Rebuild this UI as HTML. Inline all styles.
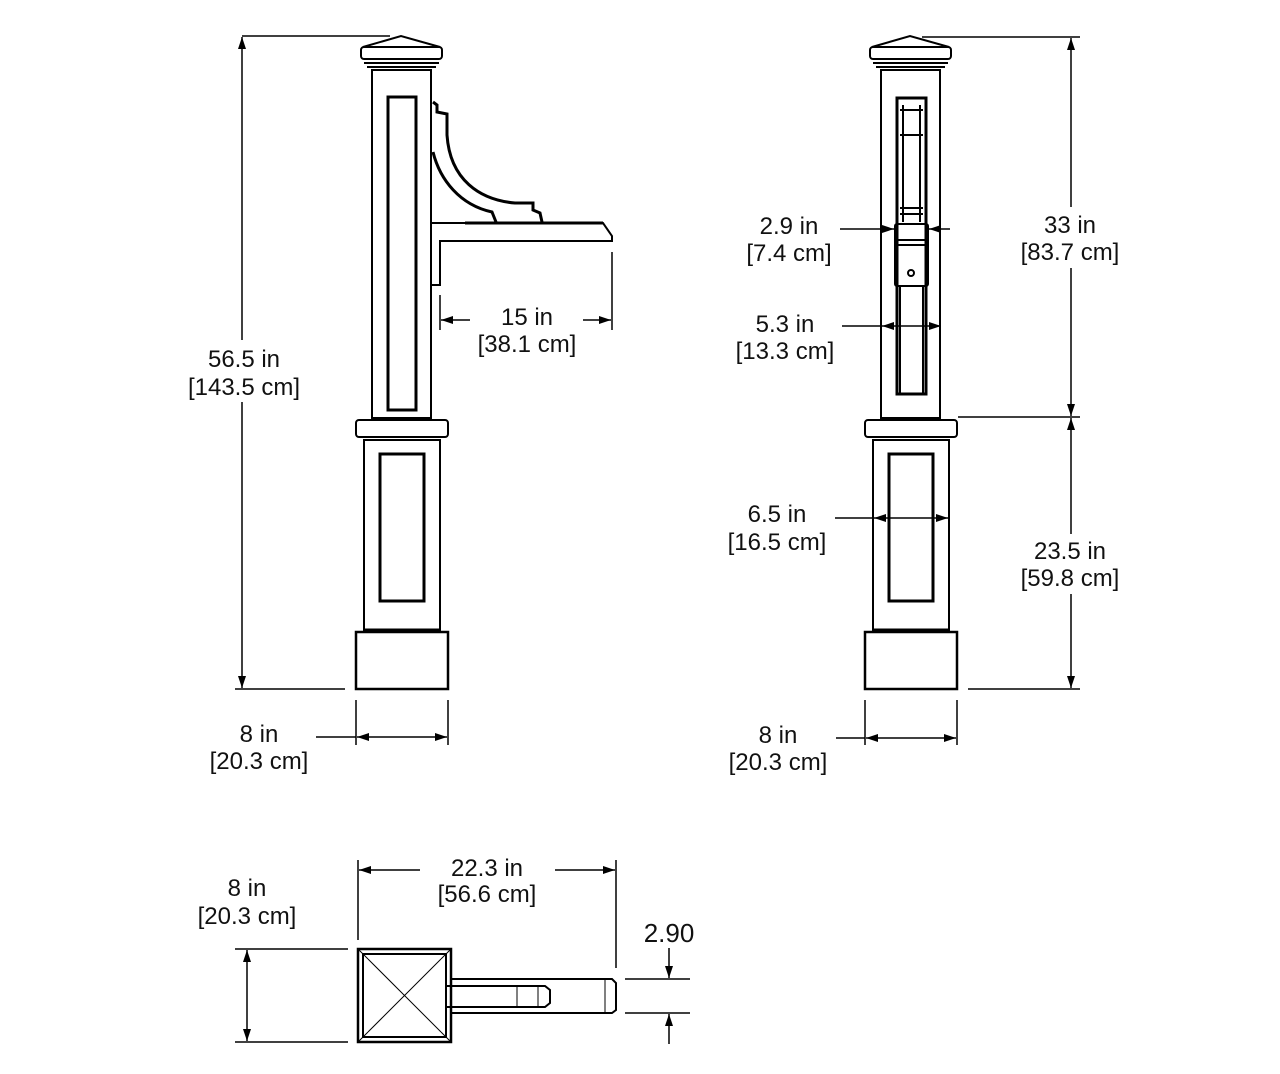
<!DOCTYPE html>
<html><head><meta charset="utf-8"><style>
html,body{margin:0;padding:0;background:#fff;}
svg{display:block;}
text{font-family:"Liberation Sans",Arial,sans-serif;font-size:24px;fill:#111;text-anchor:middle;}
</style></head><body>
<svg width="1280" height="1074" viewBox="0 0 1280 1074" xmlns="http://www.w3.org/2000/svg">
<defs>
<marker id="a" viewBox="0 0 12 8" refX="12" refY="4" markerWidth="12" markerHeight="8" markerUnits="userSpaceOnUse" orient="auto-start-reverse"><path d="M0,0 L12,4 L0,8 Z" fill="#000"/></marker>
</defs>
<g fill="none" stroke="#000" stroke-width="2">
<g id="post">
<path d="M363,47 L401,36 L440,47"/>
<rect x="361" y="47" width="81" height="12" rx="3"/>
<line x1="364" y1="63" x2="439" y2="63"/>
<line x1="367" y1="67" x2="436" y2="67"/>
<rect x="372" y="70" width="59" height="348"/>
<rect x="356" y="420" width="92" height="17" rx="3"/>
<line x1="363" y1="440" x2="441" y2="440"/>
<rect x="364" y="440" width="76" height="190"/>
<rect x="356" y="632" width="92" height="57" stroke-width="2.5"/>
<line x1="364" y1="630" x2="440" y2="630" stroke-width="3"/>
</g>
<rect x="388" y="97" width="28" height="313" stroke-width="3"/>
<rect x="380" y="454" width="44" height="147" stroke-width="3"/>
<path d="M431,223 L603,223 L612,236 L612,241 L440,241 L440,285 L431,285"/>
<line x1="465" y1="223" x2="603" y2="223" stroke-width="3"/>
<path d="M433,102 L437,105 L437,112 L447,114 L447,135 C450,180 480,200 515,203 L533,203 L533,210 L540,213 L542,222" stroke-width="3"/>
<path d="M433,152 C440,180 460,205 492,212 L496,222" stroke-width="3"/>
<g transform="translate(509,0)">
<path d="M363,47 L401,36 L440,47"/>
<rect x="361" y="47" width="81" height="12" rx="3"/>
<line x1="364" y1="63" x2="439" y2="63"/>
<line x1="367" y1="67" x2="436" y2="67"/>
<rect x="372" y="70" width="59" height="348"/>
<rect x="356" y="420" width="92" height="17" rx="3"/>
<line x1="363" y1="440" x2="441" y2="440"/>
<rect x="364" y="440" width="76" height="190"/>
<rect x="356" y="632" width="92" height="57" stroke-width="2.5"/>
<line x1="364" y1="630" x2="440" y2="630" stroke-width="3"/>
<rect x="380" y="454" width="44" height="147" stroke-width="3"/>
</g>
<rect x="897" y="98" width="29" height="296" stroke-width="3"/>
<line x1="903" y1="105" x2="903" y2="222"/><line x1="920" y1="105" x2="920" y2="222"/>
<line x1="900" y1="110" x2="923" y2="110"/><line x1="900" y1="135" x2="923" y2="135"/>
<line x1="900" y1="208" x2="923" y2="208"/><line x1="900" y1="214" x2="923" y2="214"/>
<rect x="895" y="224" width="33" height="62" rx="2"/>
<line x1="895" y1="240" x2="928" y2="240"/>
<line x1="897" y1="245" x2="926" y2="245"/>
<circle cx="911" cy="273" r="3"/>
<line x1="900" y1="286" x2="900" y2="394"/><line x1="923" y1="286" x2="923" y2="394"/>
<rect x="358" y="949" width="93" height="93" stroke-width="2.5"/>
<rect x="363" y="954" width="83" height="83"/>
<line x1="368" y1="959" x2="441" y2="1032" stroke-width="1"/>
<line x1="441" y1="959" x2="368" y2="1032" stroke-width="1"/>
<line x1="358" y1="949" x2="368" y2="959" stroke-width="1"/><line x1="451" y1="949" x2="441" y2="959" stroke-width="1"/>
<line x1="358" y1="1042" x2="368" y2="1032" stroke-width="1"/><line x1="451" y1="1042" x2="441" y2="1032" stroke-width="1"/>
<path d="M451,979 L612,979 L616,983 L616,1010 L612,1013 L451,1013"/>
<line x1="605" y1="979" x2="605" y2="1013" stroke-width="1"/>
<path d="M446,986 L545,986 L550,990 L550,1003 L545,1007 L446,1007"/>
<line x1="446" y1="986" x2="446" y2="1007"/>
<line x1="517" y1="986" x2="517" y2="1007" stroke-width="1"/>
<line x1="538" y1="986" x2="538" y2="1007" stroke-width="1"/>
</g>
<g fill="none" stroke="#000" stroke-width="1.5">
<line x1="242" y1="36" x2="390" y2="36"/>
<line x1="235" y1="689" x2="345" y2="689"/>
<line x1="242" y1="37" x2="242" y2="340" marker-start="url(#a)"/>
<line x1="242" y1="402" x2="242" y2="688" marker-end="url(#a)"/>
<line x1="356" y1="700" x2="356" y2="745"/><line x1="448" y1="700" x2="448" y2="745"/>
<line x1="316" y1="737" x2="356" y2="737"/>
<line x1="357" y1="737" x2="447" y2="737" marker-start="url(#a)" marker-end="url(#a)"/>
<line x1="440" y1="295" x2="440" y2="330"/><line x1="612" y1="252" x2="612" y2="330"/>
<line x1="441" y1="320" x2="470" y2="320" marker-start="url(#a)"/>
<line x1="583" y1="320" x2="611" y2="320" marker-end="url(#a)"/>
<line x1="922" y1="37" x2="1080" y2="37"/>
<line x1="958" y1="417" x2="1080" y2="417"/>
<line x1="968" y1="689" x2="1080" y2="689"/>
<line x1="1071" y1="38" x2="1071" y2="207" marker-start="url(#a)"/>
<line x1="1071" y1="268" x2="1071" y2="416" marker-end="url(#a)"/>
<line x1="1071" y1="418" x2="1071" y2="534" marker-start="url(#a)"/>
<line x1="1071" y1="594" x2="1071" y2="688" marker-end="url(#a)"/>
<line x1="840" y1="229" x2="894" y2="229" marker-end="url(#a)"/>
<line x1="950" y1="229" x2="929" y2="229" marker-end="url(#a)"/>
<line x1="842" y1="326" x2="880" y2="326"/>
<line x1="882" y1="326" x2="941" y2="326" marker-start="url(#a)" marker-end="url(#a)"/>
<line x1="835" y1="518" x2="873" y2="518"/>
<line x1="874" y1="518" x2="948" y2="518" marker-start="url(#a)" marker-end="url(#a)"/>
<line x1="865" y1="700" x2="865" y2="745"/><line x1="957" y1="700" x2="957" y2="745"/>
<line x1="836" y1="738" x2="865" y2="738"/>
<line x1="866" y1="738" x2="956" y2="738" marker-start="url(#a)" marker-end="url(#a)"/>
<line x1="358" y1="860" x2="358" y2="940"/><line x1="616" y1="860" x2="616" y2="968"/>
<line x1="359" y1="870" x2="420" y2="870" marker-start="url(#a)"/>
<line x1="555" y1="870" x2="615" y2="870" marker-end="url(#a)"/>
<line x1="235" y1="949" x2="348" y2="949"/><line x1="235" y1="1042" x2="348" y2="1042"/>
<line x1="247" y1="950" x2="247" y2="1041" marker-start="url(#a)" marker-end="url(#a)"/>
<line x1="625" y1="979" x2="690" y2="979"/><line x1="625" y1="1013" x2="690" y2="1013"/>
<line x1="669" y1="948" x2="669" y2="978" marker-end="url(#a)"/>
<line x1="669" y1="1044" x2="669" y2="1014" marker-end="url(#a)"/>
</g>
<g>
<text x="244" y="367">56.5 in</text><text x="244" y="395">[143.5 cm]</text>
<text x="259" y="742">8 in</text><text x="259" y="769">[20.3 cm]</text>
<text x="527" y="325">15 in</text><text x="527" y="352">[38.1 cm]</text>
<text x="789" y="234">2.9 in</text><text x="789" y="261">[7.4 cm]</text>
<text x="785" y="332">5.3 in</text><text x="785" y="359">[13.3 cm]</text>
<text x="777" y="522">6.5 in</text><text x="777" y="550">[16.5 cm]</text>
<text x="1070" y="233">33 in</text><text x="1070" y="260">[83.7 cm]</text>
<text x="1070" y="559">23.5 in</text><text x="1070" y="586">[59.8 cm]</text>
<text x="778" y="743">8 in</text><text x="778" y="770">[20.3 cm]</text>
<text x="487" y="876">22.3 in</text><text x="487" y="902">[56.6 cm]</text>
<text x="247" y="896">8 in</text><text x="247" y="924">[20.3 cm]</text>
<text x="669" y="942" style="font-size:26px">2.90</text>
</g>
</svg>
</body></html>
